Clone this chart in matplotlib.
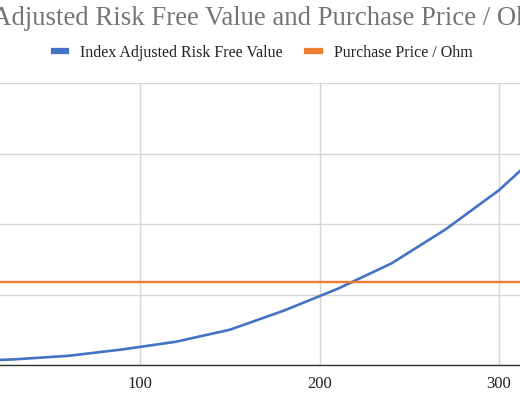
import matplotlib
matplotlib.use("Agg")
import matplotlib.pyplot as plt
from matplotlib.lines import Line2D

# ---- data ----
x_values = [0, 30, 60, 90, 120, 150, 180, 210, 240, 270, 300, 330]
rfv_values = [5, 8, 13, 22, 33, 50, 77, 108, 144, 192, 248, 318]
purchase_price = [118] * len(x_values)
x_ticks = [100, 200, 300]
y_ticks = [0, 100, 200, 300, 400]
title = "Index Adjusted Risk Free Value and Purchase Price / Ohm"
series_names = ["Index Adjusted Risk Free Value", "Purchase Price / Ohm"]

BLUE = "#4472C4"
ORANGE = "#ED7D31"
SERIF = ["Liberation Serif", "DejaVu Serif"]

W, H = 520, 400
fig = plt.figure(figsize=(W / 100, H / 100), dpi=100)

# axes extends beyond the visible crop on the left and right
left_px, right_px = -39.5, 588.8
top_px, bottom_px = 83, 365
ax = fig.add_axes([left_px / W, 1 - bottom_px / H,
                   (right_px - left_px) / W, (bottom_px - top_px) / H])

ax.plot(x_values, rfv_values, color=BLUE, lw=1.9, solid_joinstyle="round", zorder=3)
ax.plot(x_values, purchase_price, color=ORANGE, lw=1.7, zorder=3)

ax.set_xlim(0, 350)
ax.set_ylim(0, 400)
ax.set_xticks(x_ticks)
ax.set_yticks(y_ticks)
ax.set_yticklabels([])
ax.grid(True, color="#d6d6d6", lw=1.0)
ax.set_axisbelow(True)
for s in ["top", "right", "left"]:
    ax.spines[s].set_visible(False)
ax.spines["bottom"].set_color("#333333")
ax.spines["bottom"].set_linewidth(1.0)
ax.tick_params(axis="both", length=0, pad=8, labelsize=12, labelcolor="#222222")
for lab in ax.get_xticklabels():
    lab.set_fontfamily(SERIF)

fig.text(550 / W, 1 - 25 / H, title, ha="right", va="baseline",
         fontsize=19.3, color="#757575", family=SERIF)

handles = [Line2D([], [], color=BLUE, lw=4.5),
           Line2D([], [], color=ORANGE, lw=4.5)]
leg = fig.legend(handles, series_names, loc="center", bbox_to_anchor=(263 / W, 1 - 53 / H),
                 ncol=2, frameon=False, handlelength=0.8, handletextpad=0.85,
                 columnspacing=1.55, prop={"family": SERIF, "size": 11.5})
for t in leg.get_texts():
    t.set_color("#222222")

fig.savefig("out.png", dpi=100)
